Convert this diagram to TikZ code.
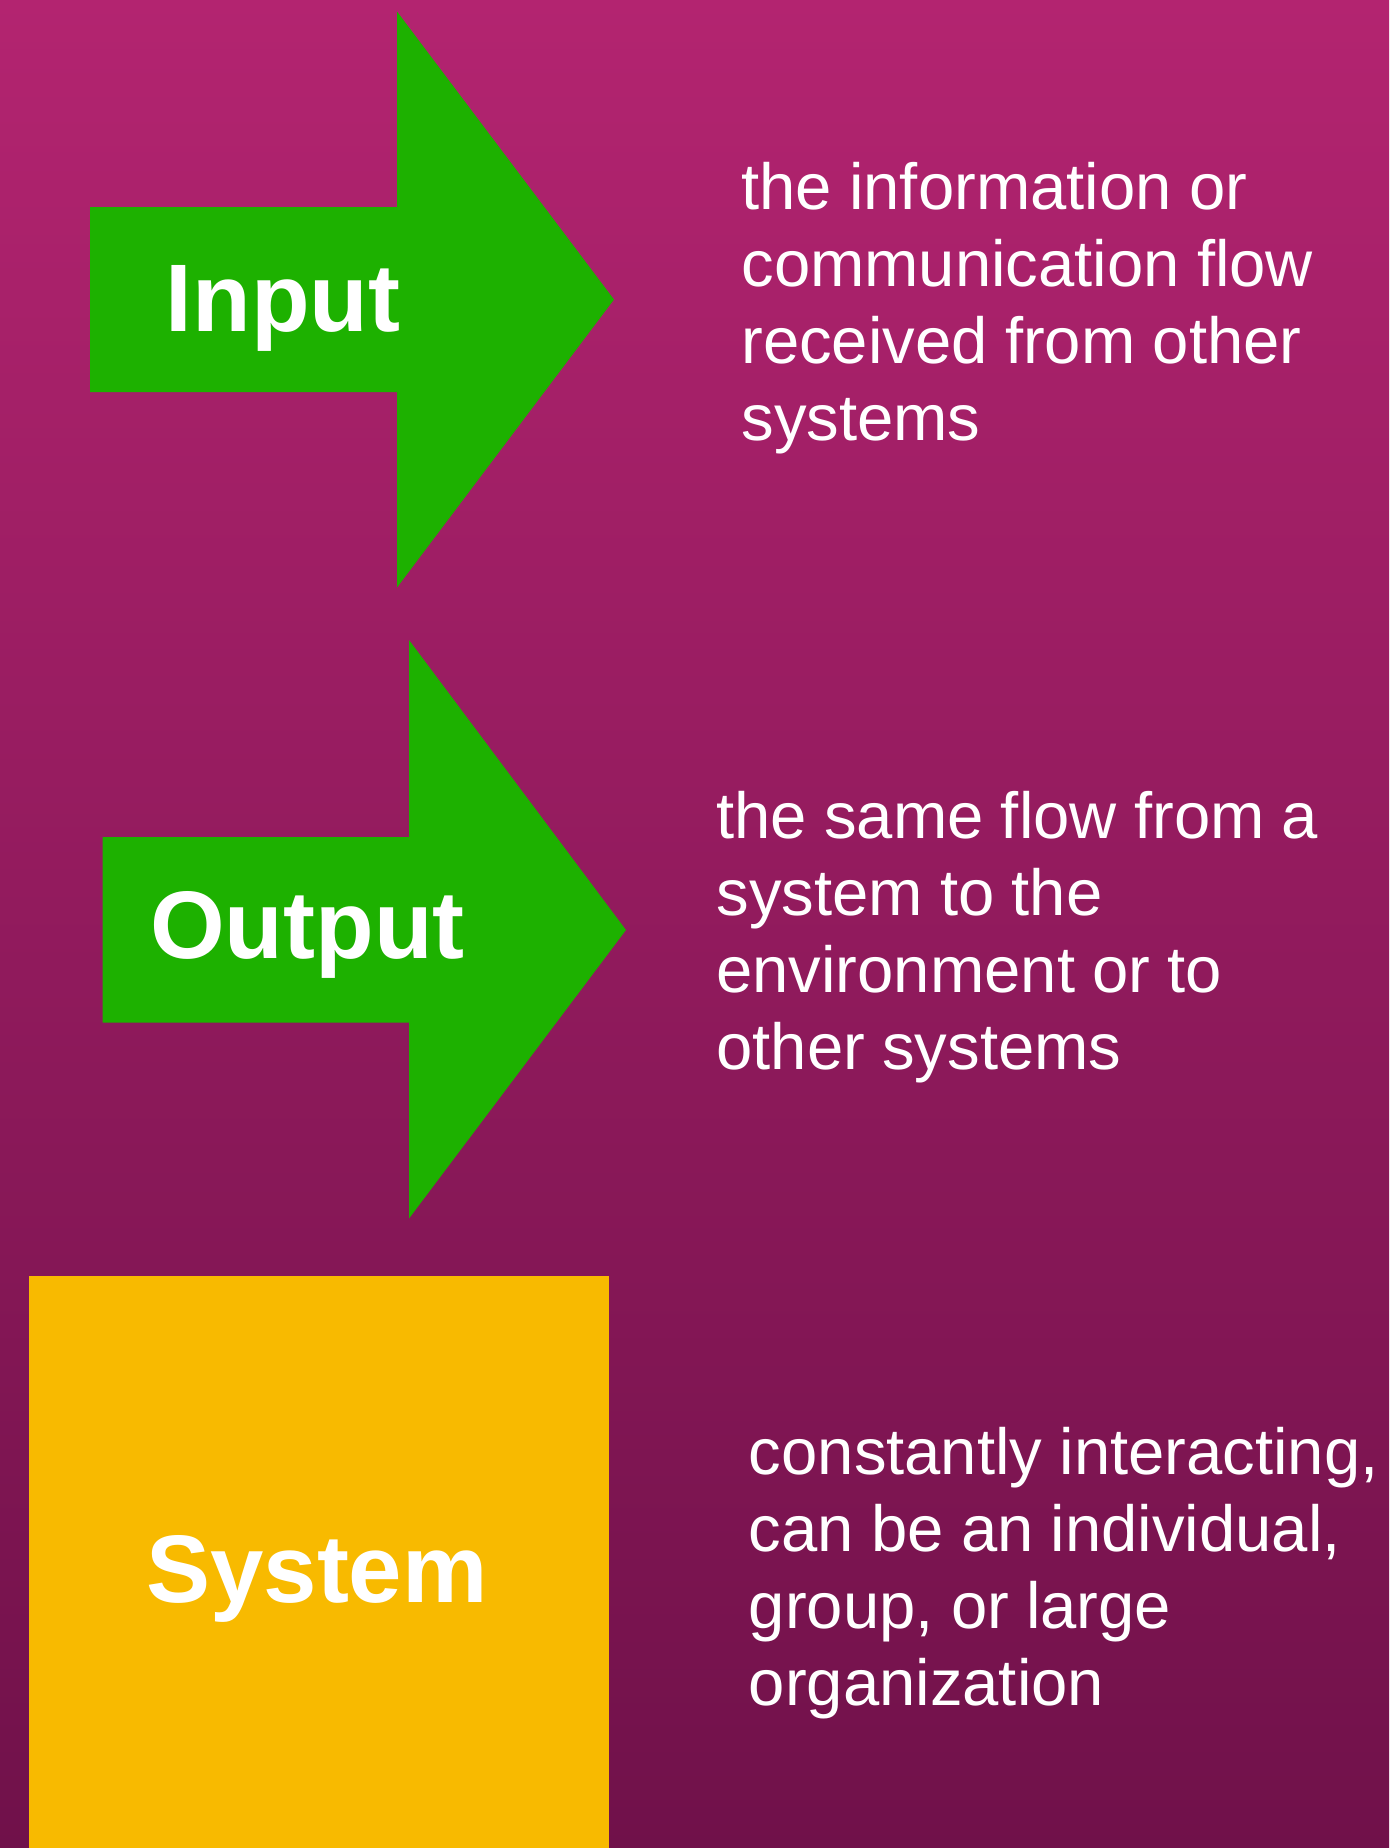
\documentclass[tikz,border=0pt]{standalone}
\usepackage{fontspec}
\newfontfamily\descfont{Liberation Sans}
\newfontfamily\labfont{Liberation Sans Bold}
\definecolor{bgtop}{RGB}{179,36,112}
\definecolor{bgbot}{RGB}{112,17,74}
\definecolor{arrowgreen}{RGB}{29,177,0}
\definecolor{sysyellow}{RGB}{248,186,0}
\tikzset{
  shapefill/.style={fill=arrowgreen, draw=none},
  boxfill/.style={fill=sysyellow, draw=none},
  biglabel/.style={text=white, inner sep=0pt, anchor=base, font=\labfont\fontsize{48}{56}\selectfont},
  desc/.style={text=white, inner sep=0pt, anchor=base west, align=left, text width=330pt,
    font=\descfont\fontsize{32.6}{38.5}\selectfont,
    execute at begin node=\spaceskip 0.265em\relax},
}
\begin{document}
\begin{tikzpicture}[x=0.5pt,y=-0.5pt]
\useasboundingbox (0,0) rectangle (1389,1848);
\shade[top color=bgtop, bottom color=bgbot] (0,0) rectangle (1389,1848);
% Input arrow
\fill[shapefill] (90,207) -- (397,207) -- (397,11.5) -- (614,299.5) -- (397,587.5) -- (397,392) -- (90,392) -- cycle;
\node[biglabel] (input) at (283,331.7) {Input};
% Output arrow
\fill[shapefill] (102.5,837) -- (409,837) -- (409,640) -- (626,930) -- (409,1218.5) -- (409,1022.5) -- (102.5,1022.5) -- cycle;
\node[biglabel] (output) at (307.5,958.3) {Output};
% System box
\fill[boxfill] (28.5,1276) rectangle (608.5,1848);
\node[biglabel] (system) at (317,1602) {System};
% Descriptions
\node[desc] (d1) at (741,209)
  {the information or\\communication flow\\received from other\\systems};
\node[desc] (d2) at (716,838.5)
  {the same flow from a\\system to the\\environment or to\\other systems};
\node[desc] (d3) at (748.5,1474.6)
  {constantly interacting,\\can be an individual,\\group, or large\\organization};
\end{tikzpicture}
\end{document}
